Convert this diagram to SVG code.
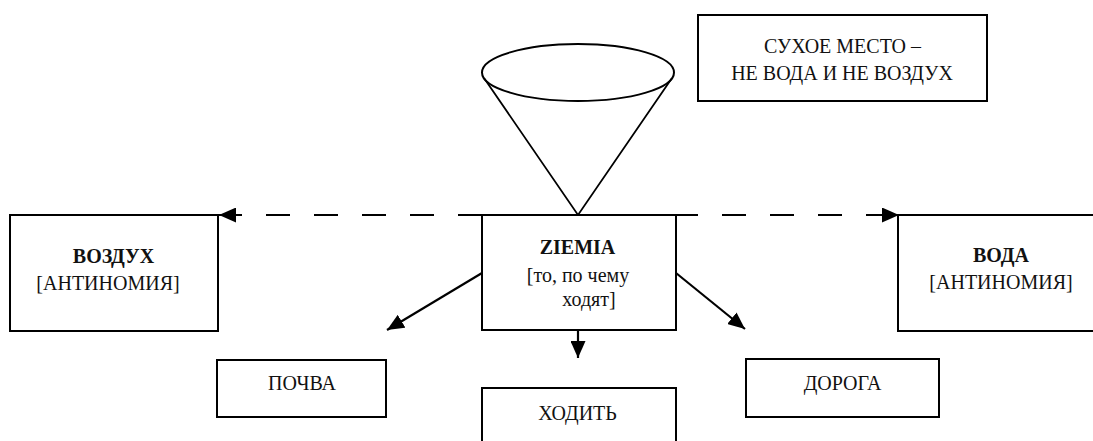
<svg xmlns="http://www.w3.org/2000/svg" width="1093" height="441" viewBox="0 0 1093 441">
<style>
.box{fill:#fff;stroke:#000;stroke-width:2}
.t{font-family:"Liberation Serif","Times New Roman",serif;font-size:20px;fill:#111;text-anchor:middle}
.b{font-weight:bold}
.ln{stroke:#000;stroke-width:2.2;fill:none}
.dash{stroke:#000;stroke-width:2;fill:none;stroke-dasharray:24 24}
</style>
<defs>
<marker id="ah" viewBox="0 0 17 15" refX="17" refY="7.5" markerWidth="17" markerHeight="15" markerUnits="userSpaceOnUse" orient="auto">
<path d="M0,0 L17,7.5 L0,15 Z" fill="#000"/>
</marker>
</defs>
<g id="cone">
<ellipse cx="578" cy="72.5" rx="96" ry="28.5" fill="none" stroke="#000" stroke-width="2"/>
<path d="M484,78 L578,215 L672,78" fill="none" stroke="#000" stroke-width="1.8"/>
</g>
<g id="connectors">
<path class="dash" d="M482,215 L219,215" marker-end="url(#ah)"/>
<path class="dash" d="M674,215 L899,215" marker-end="url(#ah)"/>
<path class="ln" d="M482,273 L387,330" marker-end="url(#ah)"/>
<path class="ln" d="M676,273 L745,329" marker-end="url(#ah)"/>
<path class="ln" d="M578,330 L578,358" marker-end="url(#ah)"/>
</g>
<g id="sukhoe">
<rect class="box" x="698" y="15" width="289" height="86"/>
<text class="t" x="842.5" y="53">СУХОЕ МЕСТО –</text>
<text class="t" x="842" y="80">НЕ ВОДА И НЕ ВОЗДУХ</text>
</g>
<g id="vozdukh">
<rect class="box" x="10" y="215" width="208" height="116"/>
<text class="t b" x="113.5" y="263">ВОЗДУХ</text>
<text class="t" x="108" y="290">[АНТИНОМИЯ]</text>
</g>
<g id="ziemia">
<rect class="box" x="482" y="215" width="194" height="115"/>
<text class="t b" x="577.5" y="254">ZIEMIA</text>
<text class="t" x="578" y="282">[то, по чему</text>
<text class="t" x="589" y="306">ходят]</text>
</g>
<g id="voda">
<rect class="box" x="898" y="215" width="210" height="116"/>
<text class="t b" x="1001" y="262">ВОДА</text>
<text class="t" x="1001" y="289">[АНТИНОМИЯ]</text>
</g>
<g id="pochva">
<rect class="box" x="217" y="360" width="169" height="57"/>
<text class="t" x="302" y="390">ПОЧВА</text>
</g>
<g id="doroga">
<rect class="box" x="746" y="359" width="193" height="58"/>
<text class="t" x="842.5" y="390">ДОРОГА</text>
</g>
<g id="khodit">
<rect class="box" x="482" y="388" width="194" height="60"/>
<text class="t" x="577.5" y="420">ХОДИТЬ</text>
</g>
</svg>
